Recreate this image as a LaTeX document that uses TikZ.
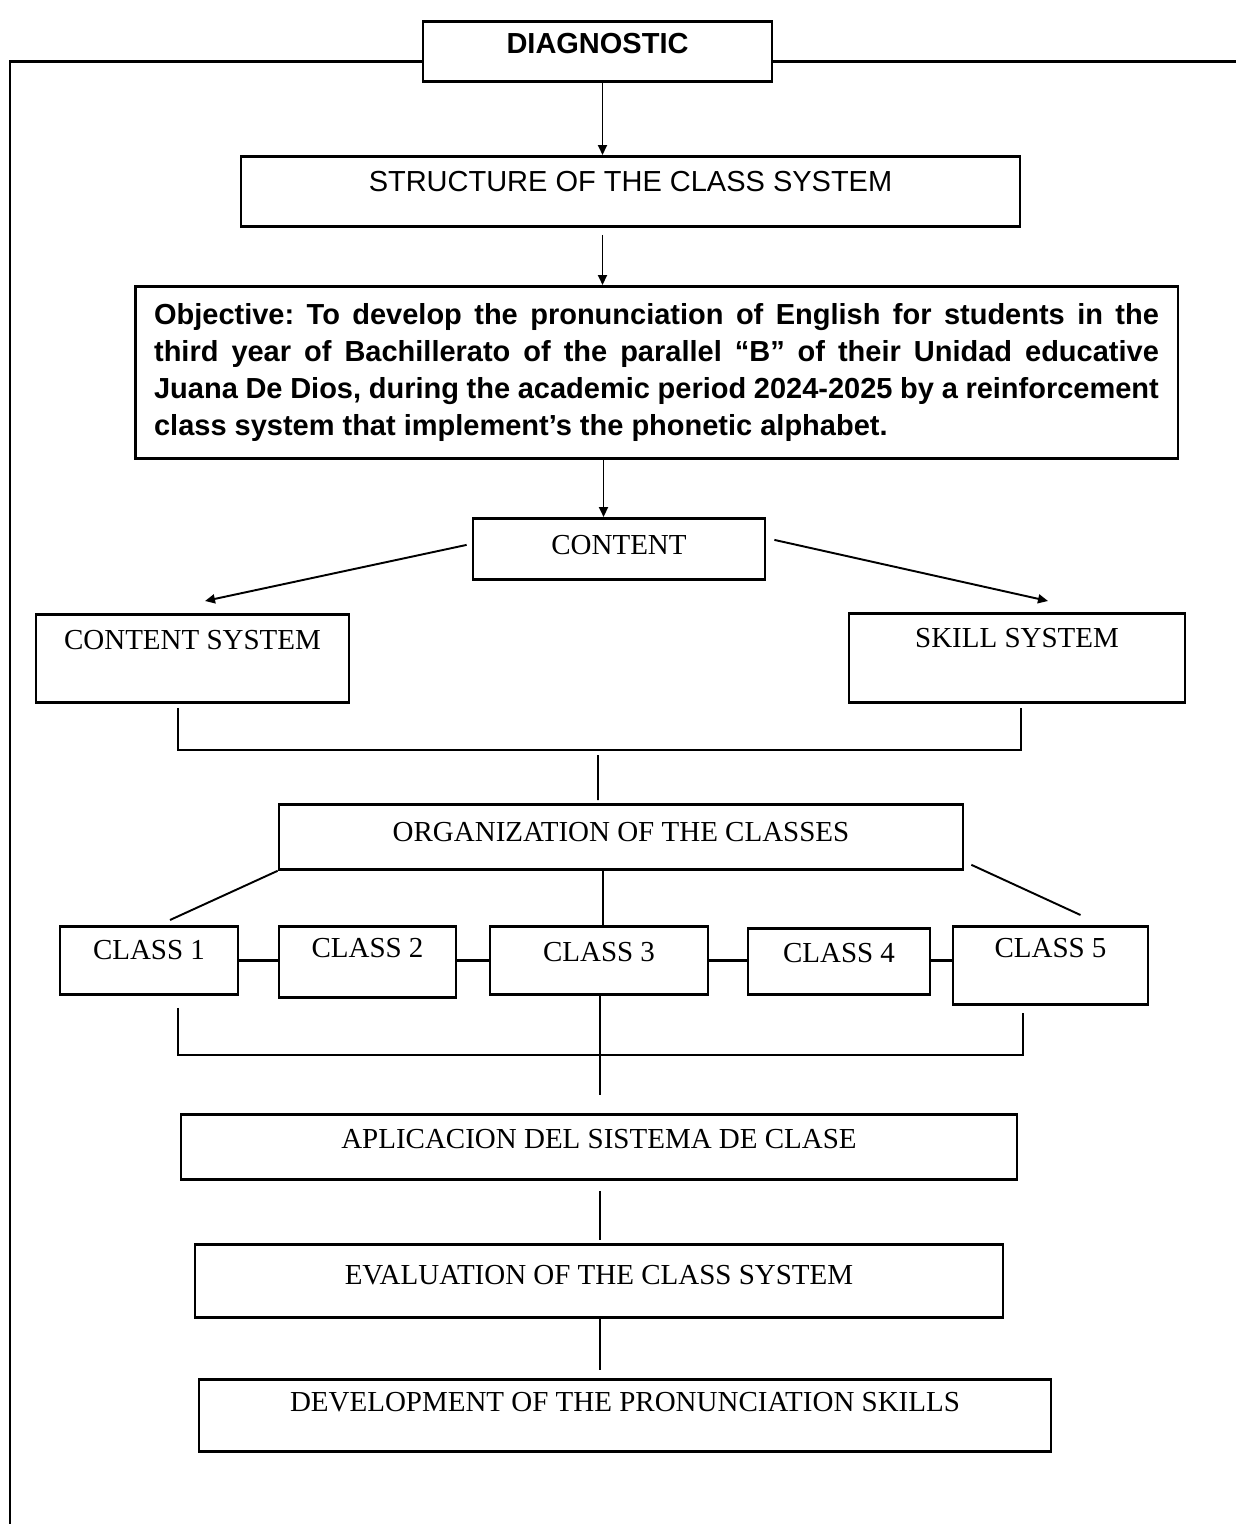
\documentclass[tikz,border=0pt]{standalone}
\usepackage{fontspec}
\setmainfont{Liberation Serif}
\setsansfont{Liberation Sans}
\usetikzlibrary{arrows.meta}
\begin{document}
\begin{tikzpicture}[x=0.02cm,y=-0.02cm,
  box/.style={draw,line width=1.6pt,inner sep=0pt,anchor=north,
    font=\fontsize{16.5}{20}\selectfont},
  sansbox/.style={box,font=\sffamily\fontsize{16.5}{20}\selectfont},
  link/.style={line width=1.1pt},
  arr/.style={link,-{Triangle[length=2mm,width=1.8mm]}}]
  \useasboundingbox (0,0) rectangle (1236,1524);
  % Top of the chart
  \node[sansbox,font=\sffamily\bfseries\fontsize{16.5}{20}\selectfont,
    minimum width=6.98cm,text height=0.64cm,text depth=0.56cm] (diag) at (597.5,20) {DIAGNOSTIC};
  \node[sansbox,minimum width=15.58cm,text height=0.7cm,text depth=0.7cm] (struct) at (630.5,155) {STRUCTURE OF THE CLASS SYSTEM};
  \node[draw,line width=1.6pt,anchor=north,minimum width=20.86cm,minimum height=3.44cm,
    text width=20.1cm,align=justify,font=\sffamily\bfseries\fontsize{16.5}{21}\selectfont\frenchspacing] (obj) at (656.5,285)
    {Objective: To develop the pronunciation of English for students in the\linebreak
     third year of Bachillerato of the parallel “B” of their Unidad educative\linebreak
     Juana De Dios, during the academic period 2024-2025 by a reinforcement\linebreak
     class system that implement’s the phonetic alphabet.};
  \node[box,minimum width=5.84cm,text height=0.72cm,text depth=0.5cm] (content) at (619,517) {CONTENT};
  \node[box,minimum width=6.26cm,text height=0.7cm,text depth=1.06cm] (csys) at (192.5,613) {CONTENT SYSTEM};
  \node[box,minimum width=6.72cm,text height=0.68cm,text depth=1.1cm] (ssys) at (1017,612) {SKILL SYSTEM};
  \node[box,minimum width=13.68cm,text height=0.74cm,text depth=0.56cm] (org) at (621,803) {ORGANIZATION OF THE CLASSES};
  % Classes
  \node[box,minimum width=3.56cm,text height=0.66cm,text depth=0.7cm] (c1) at (149,925) {CLASS 1};
  \node[box,minimum width=3.54cm,text height=0.62cm,text depth=0.8cm] (c2) at (367.5,925) {CLASS 2};
  \node[box,minimum width=4.36cm,text height=0.7cm,text depth=0.66cm] (c3) at (599,925) {CLASS 3};
  \node[box,minimum width=3.64cm,text height=0.68cm,text depth=0.64cm] (c4) at (839,927) {CLASS 4};
  \node[box,minimum width=3.9cm,text height=0.62cm,text depth=0.94cm] (c5) at (1050.5,925) {CLASS 5};
  % Bottom of the chart
  \node[box,minimum width=16.72cm,text height=0.68cm,text depth=0.62cm] (apl) at (599,1113) {APLICACION DEL SISTEMA DE CLASE};
  \node[box,minimum width=16.16cm,text height=0.8cm,text depth=0.66cm] (eval) at (599,1243) {EVALUATION OF THE CLASS SYSTEM};
  \node[box,minimum width=17.04cm,text height=0.64cm,text depth=0.8cm] (dev) at (625,1378) {DEVELOPMENT OF THE PRONUNCIATION SKILLS};
  % Frame
  \coordinate (frameL) at (10,1524);
  \coordinate (frameR) at (1236,60);
  \draw[line width=1.6pt] ([yshift=-0.2cm]diag.west) -| (frameL);
  \draw[line width=1.6pt] ([yshift=-0.2cm]diag.east) -- ([yshift=-0.2cm]diag.east -| frameR);
  % Arrows
  \draw[arr] ([xshift=0.1cm]diag.south) -- ([xshift=0.1cm]diag.south |- struct.north);
  \draw[arr] ([xshift=-0.56cm,yshift=-0.14cm]struct.south) -- ([xshift=-0.56cm]struct.south |- obj.north);
  \draw[arr] ([xshift=-1.06cm]obj.south) -- ([xshift=-1.06cm]obj.south |- content.north);
  \draw[arr] ([xshift=-0.1cm,yshift=0.08cm]content.west) -- ([xshift=0.25cm,yshift=0.24cm]csys.north);
  \draw[arr] ([xshift=0.16cm,yshift=0.18cm]content.east) -- ([xshift=0.62cm,yshift=0.22cm]ssys.north);
  % Brackets
  \coordinate (j1) at (598,750);
  \draw[link] ([xshift=-0.29cm,yshift=-0.08cm]csys.south) |- (j1) -| ([xshift=0.08cm,yshift=-0.08cm]ssys.south);
  \draw[link] ([yshift=-0.1cm]j1) -- ([xshift=-0.46cm,yshift=0.06cm]org.north);
  \draw[link] (org.south west) -- ([xshift=0.42cm,yshift=0.1cm]c1.north);
  \draw[link] ([xshift=0.08cm]c3.north |- org.south) -- ([xshift=0.08cm]c3.north);
  \draw[link] ([xshift=0.14cm,yshift=0.12cm]org.south east) -- ([xshift=0.6cm,yshift=0.2cm]c5.north);
  \foreach \a/\b in {c1/c2,c2/c3,c3/c4,c4/c5}
    \draw[line width=2pt] (\a.east |- c1.east) -- (\b.west |- c1.east);
  \coordinate (j2) at (600,1055);
  \coordinate (j3) at (600,1095);
  \draw[link] ([xshift=0.58cm,yshift=-0.24cm]c1.south) |- (j2) -| ([xshift=-0.55cm,yshift=-0.14cm]c5.south);
  \draw[link] ([xshift=0.02cm]c3.south) -- (j3);
  \draw[link] ([xshift=0.02cm,yshift=-0.2cm]apl.south) -- ([xshift=0.02cm,yshift=0.06cm]apl.south |- eval.north);
  \draw[link] ([xshift=0.02cm]eval.south) -- ([xshift=0.02cm,yshift=0.16cm]eval.south |- dev.north);
\end{tikzpicture}
\end{document}
